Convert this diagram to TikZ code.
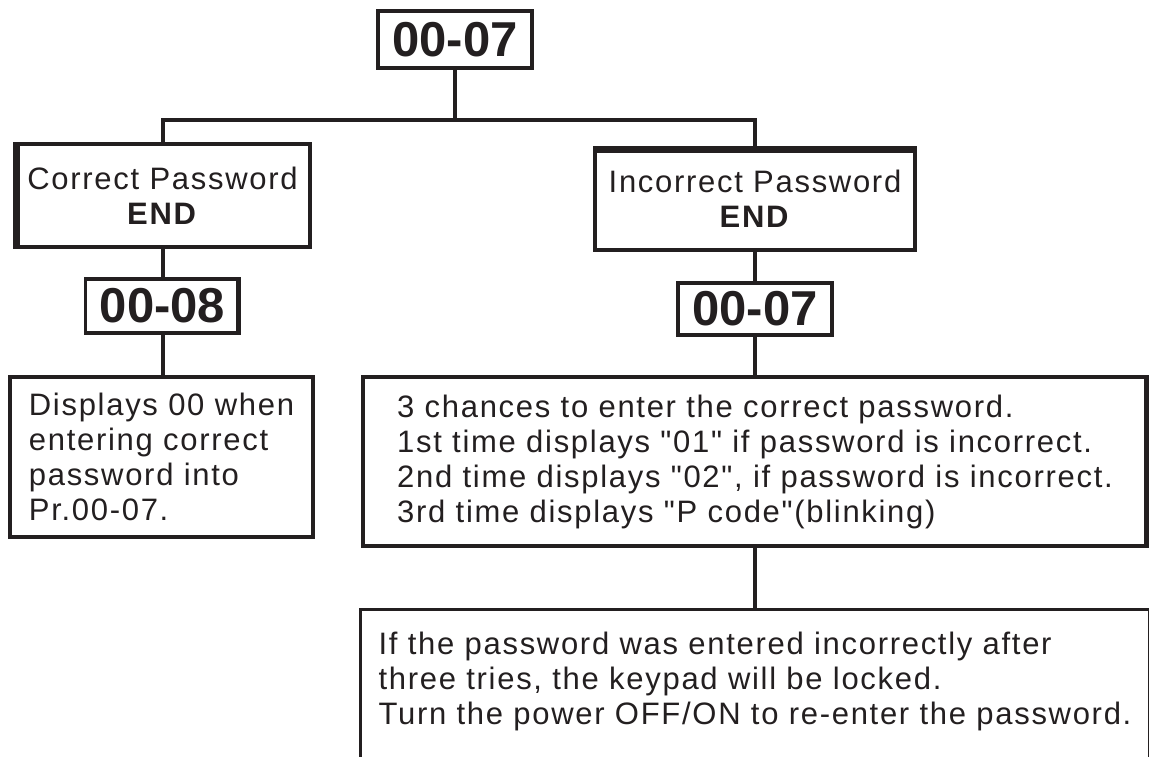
\documentclass[tikz,border=0pt]{standalone}
\usepackage{fontspec}
\setmainfont{Liberation Sans}
\newfontfamily\txtfont[LetterSpace=5.5,Ligatures=TeXOff]{Liberation Sans}
\newfontfamily\codefont[Ligatures=TeXOff]{Liberation Sans}
\definecolor{ink}{HTML}{231F20}
\tikzset{
  boxline/.style={draw=ink, line width=3.2pt},
  txtbox/.style={boxline, rectangle, inner sep=0pt, text=ink,
    font=\txtfont\fontsize{31}{35}\selectfont},
  codebox/.style={boxline, rectangle, inner sep=0pt, minimum width=154pt,
    minimum height=54pt, text=ink, font=\codefont\bfseries\fontsize{49}{49}\selectfont},
  link/.style={draw=ink, line width=4pt},
  heavyedge/.style={draw=ink, line width=6.5pt}
}
\begin{document}
\begin{tikzpicture}[x=1pt,y=-1pt]
\useasboundingbox (0,0) rectangle (1149,756);
\fill[white] (0,0) rectangle (1149,756);

% nodes
\node[codebox, minimum height=57pt] (top) at (455,39.5) {00-07};
\node[txtbox, align=center, minimum width=295pt, minimum height=103pt] (cor) at (162.5,195.5) {Correct Password\\\textbf{END}};
\node[txtbox, align=center, minimum width=320pt, minimum height=102pt] (inc) at (755,199) {Incorrect Password\\\textbf{END}};
\node[codebox] (c08) at (162.5,306) {00-08};
\node[codebox, minimum height=52pt] (c07) at (755,309) {00-07};
\node[txtbox, align=left, minimum width=303pt, minimum height=160pt] (disp) at (161.5,457)
  {Displays 00 when\\entering correct\\password into\\Pr.00-07.};
\node[txtbox, align=left, minimum width=784pt, minimum height=169pt] (chance) at (755,461.5)
  {3 chances to enter the correct password.\\1st time displays "01" if password is incorrect.\\2nd time displays "02", if password is incorrect.\\3rd time displays "P code"(blinking)};
\node[txtbox, draw=none, align=left, minimum width=785pt, minimum height=140pt] (lock) at (755,681)
  {If the password was entered incorrectly after\\three tries, the keypad will be locked.\\Turn the power OFF/ON to re-enter the password.};
\draw[boxline, line width=3pt] ([yshift=-14pt]lock.south west) -- (lock.north west) -- (lock.north east) -- ([yshift=-14pt]lock.south east);

% heavier edges
\draw[heavyedge] ([xshift=3.2pt]cor.north west) -- ([xshift=3.2pt]cor.south west);
\draw[heavyedge, line width=7pt] ([yshift=-3.1pt]inc.north west) -- ([yshift=-3.1pt]inc.north east);
\draw[heavyedge, line width=5pt] ([xshift=-2.5pt]c08.north east) -- ([xshift=-2.5pt]c08.south east);
\draw[heavyedge, line width=4.5pt] ([xshift=-2.2pt]chance.north east) -- ([xshift=-2.2pt]chance.south east);

% connectors
\coordinate (bar) at (455,120);
\draw[link] (top.south) -- (bar);
\draw[link] (cor.north) |- (bar) -| (inc.north);
\draw[link] (cor.south) -- (c08.north);
\draw[link] (c08.south) -- (c08.south |- disp.north);
\draw[link] (inc.south) -- (c07.north);
\draw[link] (c07.south) -- (c07.south |- chance.north);
\draw[link] (chance.south -| c07.south) -- (c07.south |- lock.north);
\end{tikzpicture}
\end{document}
